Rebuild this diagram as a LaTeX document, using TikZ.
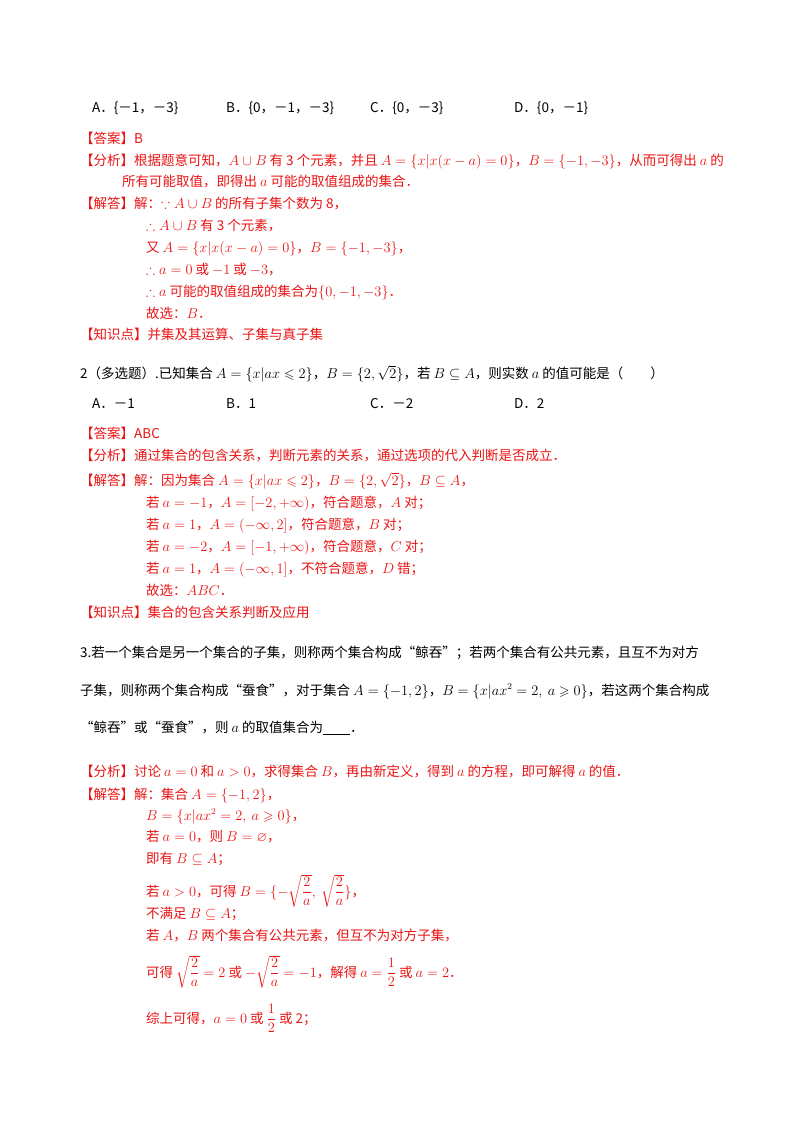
\documentclass[tikz,border=0pt]{standalone}
\usepackage{amsmath,amssymb}
\usepackage{fontspec}
\setmainfont{Noto Sans CJK SC}
\begin{document}
\definecolor{rd}{RGB}{235,20,20}
\begin{tikzpicture}[x=1pt,y=-1pt,
  t/.style={anchor=base west,inner sep=0pt,font=\fontsize{13.5}{15}\selectfont},
  r/.style={t,text=rd}]
\useasboundingbox[fill=white] (0,0) rectangle (800,1132);
\node[t] (o1) at (92,112) {A．\{－1，－3\}};
\node[t] (o2) at (226,112) {B．\{0，－1，－3\}};
\node[t] (o3) at (370,112) {C．\{0，－3\}};
\node[t] (o4) at (514,112) {D．\{0，－1\}};
\node[r] (a1) at (80,143) {【答案】B};
\node[r] (a2) at (80,165) {【分析】根据题意可知，$A\cup B$ 有 3 个元素，并且 $A=\{x|x(x-a)=0\}$，$B=\{-1,-3\}$，从而可得出 $a$ 的};
\node[r] (a3) at (122,186) {所有可能取值，即得出 $a$ 可能的取值组成的集合．};
\node[r] (a4) at (80,208) {【解答】解：$\because A\cup B$ 的所有子集个数为 8，};
\node[r] (a5) at (146,230) {$\therefore A\cup B$ 有 3 个元素，};
\node[r] (a6) at (146,252) {又 $A=\{x|x(x-a)=0\}$，$B=\{-1,-3\}$，};
\node[r] (a7) at (146,274) {$\therefore a=0$ 或 $-1$ 或 $-3$，};
\node[r] (a8) at (146,296) {$\therefore a$ 可能的取值组成的集合为$\{0,-1,-3\}$．};
\node[r] (a9) at (146,318) {故选：$B$．};
\node[r] (a10) at (80,339) {【知识点】并集及其运算、子集与真子集};
\node[t] (q2) at (80,378) {2（多选题）.已知集合 $A=\{x|ax\leqslant 2\}$，$B=\{2,\sqrt{2}\}$，若 $B\subseteq A$，则实数 $a$ 的值可能是（\qquad）};
\node[t] (p1) at (92,408) {A．－1};
\node[t] (p2) at (226,408) {B．1};
\node[t] (p3) at (370,408) {C．－2};
\node[t] (p4) at (514,408) {D．2};
\node[r] (b1) at (80,438) {【答案】ABC};
\node[r] (b2) at (80,460) {【分析】通过集合的包含关系，判断元素的关系，通过选项的代入判断是否成立．};
\node[r] (b3) at (80,485) {【解答】解：因为集合 $A=\{x|ax\leqslant 2\}$，$B=\{2,\sqrt{2}\}$，$B\subseteq A$，};
\node[r] (b4) at (146,507) {若 $a=-1$，$A=[-2,+\infty)$，符合题意，$A$ 对；};
\node[r] (b5) at (146,529) {若 $a=1$，$A=(-\infty,2]$，符合题意，$B$ 对；};
\node[r] (b6) at (146,551) {若 $a=-2$，$A=[-1,+\infty)$，符合题意，$C$ 对；};
\node[r] (b7) at (146,573) {若 $a=1$，$A=(-\infty,1]$，不符合题意，$D$ 错；};
\node[r] (b8) at (146,595) {故选：$ABC$．};
\node[r] (b9) at (80,617) {【知识点】集合的包含关系判断及应用};
\node[t,font=\fontsize{13.5}{15}\selectfont] (q3a) at (80,657) {3.若一个集合是另一个集合的子集，则称两个集合构成“鲸吞”；若两个集合有公共元素，且互不为对方};
\node[t] (q3b) at (80,695) {子集，则称两个集合构成“蚕食”，对于集合 $A=\{-1,2\}$，$B=\{x|ax^2=2,\ a\geqslant 0\}$，若这两个集合构成};
\node[t] (q3c) at (80,732) {“鲸吞”或“蚕食”，则 $a$ 的取值集合为\underline{\hspace{2em}}．};
\node[r] (c1) at (80,776) {【分析】讨论 $a=0$ 和 $a>0$，求得集合 $B$，再由新定义，得到 $a$ 的方程，即可解得 $a$ 的值．};
\node[r] (c2) at (80,799) {【解答】解：集合 $A=\{-1,2\}$，};
\node[r] (c3) at (146,820) {$B=\{x|ax^2=2,\ a\geqslant 0\}$，};
\node[r] (c4) at (146,841) {若 $a=0$，则 $B=\varnothing$，};
\node[r] (c5) at (146,863) {即有 $B\subseteq A$；};
\node[r] (c6) at (146,896) {若 $a>0$，可得 $B=\{-\sqrt{\dfrac{2}{a}},\ \sqrt{\dfrac{2}{a}}\}$，};
\node[r] (c7) at (146,918) {不满足 $B\subseteq A$；};
\node[r] (c8) at (146,940) {若 $A$，$B$ 两个集合有公共元素，但互不为对方子集，};
\node[r] (c9) at (146,977) {可得 $\sqrt{\dfrac{2}{a}}=2$ 或 $-\sqrt{\dfrac{2}{a}}=-1$，解得 $a=\dfrac{1}{2}$ 或 $a=2$．};
\node[r] (c10) at (146,1023) {综上可得，$a=0$ 或 $\dfrac{1}{2}$ 或 2；};
\end{tikzpicture}
\end{document}
